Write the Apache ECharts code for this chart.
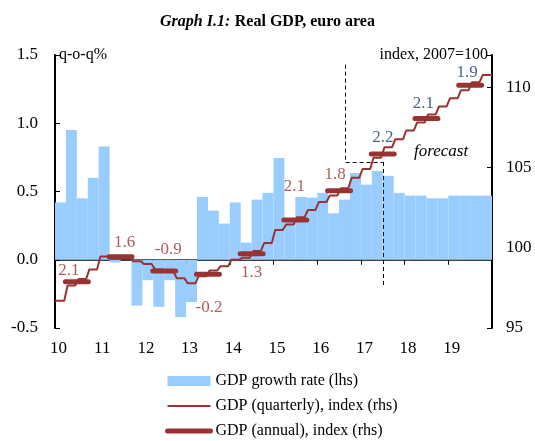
<!DOCTYPE html>
<html>
<head>
<meta charset="utf-8">
<script src="https://cdn.jsdelivr.net/npm/echarts@6/dist/echarts.min.js"></script>
<style>
  html, body { margin: 0; padding: 0; background: #fff; }
  #main { width: 535px; height: 441px; }
</style>
</head>
<body>
<div id="main"></div>
<script>
const years = ['10', '11', '12', '13', '14', '15', '16', '17', '18', '19'];
const quarterNames = ['Q1', 'Q2', 'Q3', 'Q4'];

// q-o-q growth, %, lhs
const growth = [
    0.42, 0.95, 0.45, 0.60,
    0.83, -0.02, 0.00, -0.335,
    -0.15, -0.345, -0.15, -0.42,
    -0.31, 0.46, 0.36, 0.265,
    0.42, 0.125, 0.44, 0.49,
    0.745, 0.30, 0.46, 0.455,
    0.49, 0.34, 0.44, 0.635,
    0.55, 0.65, 0.615, 0.49,
    0.47, 0.47, 0.45, 0.45,
    0.47, 0.47, 0.47, 0.47
];

// GDP index, 2007=100, rhs
const quarterlyIndex = [
    96.70, 97.65, 98.05, 98.65,
    99.45, 99.45, 99.42, 99.15,
    98.98, 98.65, 98.50, 98.10,
    97.78, 98.22, 98.58, 98.85,
    99.25, 99.38, 99.80, 100.30,
    101.10, 101.45, 101.90, 102.35,
    102.85, 103.25, 103.70, 104.35,
    104.90, 105.60, 106.25, 106.75,
    107.30, 107.80, 108.30, 108.80,
    109.30, 109.80, 110.30, 110.75
];
const annualIndex = [97.88, 99.44, 98.55, 98.35, 99.63, 101.72, 103.55, 105.83, 108.05, 110.12];
const annualGrowth = ['2.1', '1.6', '-0.9', '-0.2', '1.3', '2.1', '1.8', '2.2', '2.1', '1.9'];

// label placement / colours (style, not data)
const labelOffsets = [[-8, -11], [4, -14], [4, -21], [1, 33], [0, 19], [-1, -34], [-4, -16], [0, -17], [-3, -15], [-3, -13]];
const firstForecastYear = 7;

const RED = '#993333';
const BLUE = '#1F3A68';
const BAR = '#99CCFF';
const FONT = '"Liberation Serif", "Times New Roman", serif';

const quarters = [];
years.forEach(y => quarterNames.forEach(q => quarters.push(y + q)));

// quarterly staircase: flat across each quarter, short slanted riser between
let qLine = [];
quarterlyIndex.forEach((v, i) => {
    qLine.push([i === 0 ? 0 : i + 0.15, v]);
    qLine.push([i === quarterlyIndex.length - 1 ? 40 : i + 0.85, v]);
});

// annual averages drawn as separate thick segments
let aLine = [];
annualIndex.forEach((v, i) => {
    aLine.push([i * 4 + 0.95, v]);
    aLine.push([i * 4 + 3.05, v]);
    aLine.push([i * 4 + 3.5, '-']);
});

let aLabels = annualIndex.map((v, i) => ({
    value: [i * 4 + 2, v],
    label: {
        offset: labelOffsets[i],
        color: i >= firstForecastYear ? BLUE : RED
    }
}));

var chartDom = document.getElementById('main');
var myChart = echarts.init(chartDom);

let option = {
    animation: false,
    backgroundColor: '#fff',
    textStyle: { fontFamily: FONT },
    title: {
        text: '{i|Graph I.1:} {b|Real GDP, euro area}',
        left: 'center',
        top: 8,
        textStyle: {
            rich: {
                i: { fontStyle: 'italic', fontSize: 16, fontFamily: FONT, color: '#000' },
                b: { fontWeight: 'bold', fontSize: 16, fontFamily: FONT, color: '#000' }
            }
        }
    },
    legend: {
        orient: 'vertical',
        left: 160,
        top: 368,
        height: 120,
        itemWidth: 43,
        itemHeight: 10,
        itemGap: 9,
        textStyle: { fontFamily: FONT, fontSize: 16, color: '#000' },
        data: [
            { name: 'GDP growth rate (lhs)', icon: 'rect' },
            { name: 'GDP (quarterly), index (rhs)', itemStyle: { opacity: 0 }, lineStyle: { width: 2 } },
            { name: 'GDP (annual), index (rhs)', itemStyle: { opacity: 0 }, lineStyle: { width: 5, cap: 'round' } }
        ]
    },
    grid: { left: 55, right: 43, top: 55, bottom: 113 },
    xAxis: [
        {
            type: 'category',
            data: quarters,
            show: false,
            boundaryGap: true
        },
        {
            type: 'value',
            min: 0,
            max: 40,
            interval: 4,
            axisLine: { onZero: true, onZeroAxisIndex: 0, lineStyle: { color: '#000', width: 1.5 } },
            axisTick: { inside: true, length: 5, lineStyle: { color: '#000' } },
            axisLabel: { show: false },
            splitLine: { show: false }
        },
        {
            type: 'value',
            min: 0,
            max: 40,
            interval: 4,
            position: 'bottom',
            axisLine: { show: false, onZero: false },
            axisTick: { show: false },
            splitLine: { show: false },
            axisLabel: {
                fontFamily: FONT,
                fontSize: 17,
                color: '#000',
                margin: 12,
                padding: [0, 0, 0, 7],
                formatter: v => years[v / 4] || ''
            }
        }
    ],
    yAxis: [
        {
            type: 'value',
            min: -0.5,
            max: 1.5,
            interval: 0.5,
            name: 'q-o-q%',
            nameLocation: 'end',
            nameGap: 0,
            nameTextStyle: { fontFamily: FONT, fontSize: 16, color: '#000', align: 'left', verticalAlign: 'middle', padding: [0, 0, 0, 4] },
            axisLine: { show: true, onZero: false, lineStyle: { color: '#000', width: 2 } },
            axisTick: { show: true, inside: true, length: 5, lineStyle: { color: '#000' } },
            axisLabel: { fontFamily: FONT, fontSize: 17, color: '#000', margin: 17, formatter: v => v.toFixed(1) },
            splitLine: { show: false }
        },
        {
            type: 'value',
            min: 95,
            max: 112,
            interval: 5,
            position: 'right',
            name: 'index, 2007=100',
            nameLocation: 'end',
            nameGap: 0,
            nameTextStyle: { fontFamily: FONT, fontSize: 16, color: '#000', align: 'right', verticalAlign: 'middle', padding: [0, 4, 4, 0] },
            axisLine: { show: true, onZero: false, lineStyle: { color: '#000', width: 2 } },
            axisTick: { show: true, inside: true, length: 5, lineStyle: { color: '#000' } },
            axisLabel: { fontFamily: FONT, fontSize: 17, color: '#000', margin: 14, formatter: v => (v % 5 === 0 ? String(v) : '') },
            splitLine: { show: false }
        }
    ],
    graphic: [
        {
            type: 'text',
            left: 414,
            top: 143,
            style: { text: 'forecast', fontFamily: FONT, fontSize: 17, fontStyle: 'italic', fill: '#000' }
        }
    ],
    series: [
        {
            name: 'GDP growth rate (lhs)',
            type: 'bar',
            xAxisIndex: 0,
            yAxisIndex: 0,
            data: growth,
            barWidth: '100%',
            barCategoryGap: 0,
            itemStyle: { color: BAR },
            z: 1
        },
        {
            name: 'GDP (quarterly), index (rhs)',
            type: 'line',
            xAxisIndex: 1,
            yAxisIndex: 1,
            data: qLine,
            symbol: 'none',
            lineStyle: { color: RED, width: 2 },
            itemStyle: { color: RED },
            z: 3,
            markLine: {
                silent: true,
                symbol: 'none',
                label: { show: false },
                lineStyle: { color: '#000', width: 1, type: [4, 3] },
                data: [
                    [{ coord: [26.6, 111.4] }, { coord: [26.6, 105.34] }],
                    [{ coord: [26.6, 105.34] }, { coord: [30, 105.34] }],
                    [{ coord: [30, 105.34] }, { coord: [30, 97.5] }]
                ]
            }
        },
        {
            name: 'GDP (annual), index (rhs)',
            type: 'line',
            xAxisIndex: 1,
            yAxisIndex: 1,
            data: aLine,
            symbol: 'none',
            connectNulls: false,
            lineStyle: { color: RED, width: 5, cap: 'round' },
            itemStyle: { color: RED },
            z: 4
        },
        {
            name: 'labels',
            type: 'scatter',
            xAxisIndex: 1,
            yAxisIndex: 1,
            data: aLabels,
            symbolSize: 0,
            silent: true,
            label: {
                show: true,
                position: 'inside',
                fontFamily: FONT,
                fontSize: 17,
                formatter: p => annualGrowth[p.dataIndex]
            },
            z: 5
        }
    ]
};

myChart.setOption(option);
window.addEventListener('resize', () => {
    myChart.resize();
});
</script>
</body>
</html>
